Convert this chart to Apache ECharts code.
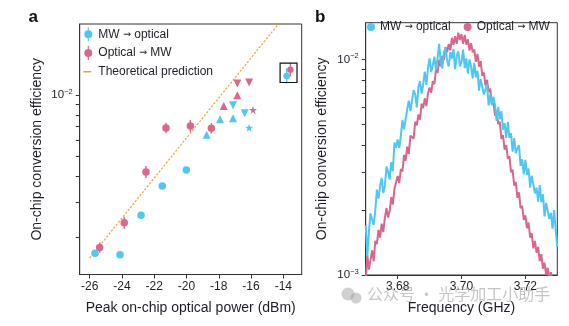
<!DOCTYPE html>
<html>
<head>
<meta charset="utf-8">
<script src="https://cdn.jsdelivr.net/npm/echarts@6/dist/echarts.min.js"></script>
<style>
  html, body { margin: 0; padding: 0; background: #fff; }
  #chart { width: 569px; height: 326px; }
</style>
</head>
<body>
<div id="chart"></div>
<script>
// ---------- Panel a: conversion efficiency vs. peak on-chip optical power ----------
const powerTicks = [-26, -24, -22, -20, -18, -16, -14];

// [power (dBm), efficiency]
const mwCircles  = [[-25.67, 1.68e-3], [-24.12, 1.65e-3], [-22.82, 2.58e-3], [-21.50, 3.58e-3], [-20.01, 4.29e-3]];
const optCircles = [[-25.38, 1.79e-3], [-23.86, 2.37e-3], [-22.51, 4.20e-3], [-21.27, 6.89e-3], [-19.76, 7.05e-3], [-18.46, 6.87e-3]];
const mwUp       = [[-18.75, 6.39e-3], [-17.92, 7.60e-3], [-17.12, 7.69e-3]];
const optUp      = [[-17.69, 8.83e-3], [-16.85, 9.97e-3]];
const mwDown     = [[-17.12, 8.90e-3], [-16.39, 8.13e-3]];
const optDown    = [[-16.85, 1.14e-2], [-16.12, 1.15e-2]];
const mwStar     = [[-16.12, 6.91e-3]];
const optStar    = [[-15.88, 8.45e-3]];
const mwBoxed    = [[-13.79, 1.24e-2]];
const optBoxed   = [[-13.56, 1.33e-2]];

// relative error-bar half widths
const mwCircleErr  = [0.03, 0.03, 0.03, 0.03, 0.03];
const optCircleErr = [0.06, 0.07, 0.07, 0.06, 0.07, 0.06];
const mwBoxedErr   = [0.09];
const optBoxedErr  = [0.08];

// theoretical prediction (efficiency proportional to optical power)
const theoryLine = [[-26.0, 1.59e-3], [-14.3, 2.23e-2]];

// ---------- Panel b: conversion efficiency spectra ----------
const freqTicks = [3.68, 3.70, 3.72];
const freqStart = 3.670;   // GHz, first sample of the sweep
const freqStep  = 0.0005;  // GHz, sweep step

// efficiency in units of 1e-3 (per mille), one value per sweep point
const mwToOpticalPermille = [
  1.70, 1.22, 1.58, 1.93, 1.89,  1.71, 1.99, 2.49, 2.26, 2.58,
  2.82, 2.40, 2.59, 3.18, 3.02,  2.77, 3.34, 3.03, 4.12, 3.89,
  4.25, 3.88, 4.41, 5.23, 4.74,  4.72, 5.87, 6.43, 5.75, 5.68,
  7.20, 6.88, 5.99, 7.42, 7.92,  6.94, 7.63, 8.78, 7.61, 9.15,
  10.1, 8.73, 9.37, 10.3, 8.91,  10.2, 11.8, 9.60, 9.08, 10.8,
  11.3, 9.89, 9.27, 10.8, 10.1,  11.2, 9.02, 10.4, 10.9, 9.29,
  9.75, 11.1, 9.11, 10.1, 8.60,  10.0, 9.29, 8.16, 9.63, 8.26,
  8.87, 7.16, 8.11, 8.24, 6.87,  6.93, 7.66, 6.12, 6.89, 6.13,
  6.72, 6.14, 5.19, 6.02, 5.28,  5.76, 4.72, 5.06, 4.32, 5.13,
  4.33, 4.54, 3.73, 4.32, 3.67,  3.87, 4.00, 3.21, 3.44, 2.93,
  3.42, 2.92, 3.12, 2.54, 2.89,  2.92, 2.39, 2.54, 2.19, 2.61,
  2.18, 2.37, 1.87, 2.16, 2.20,  1.82, 1.94, 1.64, 2.00, 1.62,
  1.35
];
const opticalToMwPermille = [
  0.93, 1.24, 1.06, 1.05, 1.30,  1.16, 1.44, 1.39, 1.62, 1.49,
  1.73, 1.58, 1.84, 2.04, 1.85,  1.98, 2.30, 2.12, 2.51, 2.46,
  2.88, 2.67, 3.10, 3.02, 3.60,  3.39, 3.94, 3.64, 4.43, 4.43,
  4.29, 5.14, 4.95, 5.55, 5.25,  6.24, 5.94, 6.60, 6.07, 6.96,
  7.41, 7.01, 7.93, 7.67, 8.98,  8.67, 9.96, 9.29, 10.4, 9.91,
  11.4, 10.8, 11.8, 11.0, 12.6,  11.7, 12.8, 11.8, 13.3, 12.3,
  13.1, 11.8, 13.0, 11.7, 12.4,  11.0, 11.9, 10.8, 11.1, 9.76,
  10.6, 9.26, 9.81, 8.40, 8.69,  7.56, 8.04, 7.07, 7.32, 6.21,
  6.41, 5.48, 5.78, 5.01, 5.13,  4.28, 4.45, 3.81, 4.00, 3.47,
  3.55, 3.00, 3.08, 2.60, 2.70,  2.28, 2.42, 2.04, 2.09, 1.80,
  1.89, 1.65, 1.75, 1.49, 1.56,  1.33, 1.44, 1.27, 1.35, 1.16,
  1.25, 1.07, 1.14, 1.00, 1.08,  0.96, 1.03, 0.89, 0.95, 0.85,
  0.85
];

// ---------- styling ----------
const FONT = '"Liberation Sans", Arial, sans-serif';
const BLUE = '#4fc7f3';
const PINK = '#d8678b';
const ORANGE = '#e5a53b';
const INK = '#1e1e28';
const AXIS = '#333';

const NAME_MW = 'MW \u2192 optical';
const NAME_OPT = 'Optical \u2192 MW';
const NAME_TH = 'Theoretical prediction';

// legend glyphs: dot with vertical error bar, and a short line
const ICON_ERRDOT = 'path://M4.45,0h1.1v14h-1.1z M9,7a4,4 0 1,1 -8,0a4,4 0 1,1 8,0z';
const ICON_LINE = 'path://M0,0h0.01v0.01h-0.01z M0,6.3h8v1.4h-8z M9.99,13.99h0.01v0.01h-0.01z';
const STAR = 'path://M50,0 L61,35 L98,35 L68,57 L79,91 L50,70 L21,91 L32,57 L2,35 L39,35Z';

const legendText = {
  fontSize: 12, color: INK, fontFamily: FONT,
  rich: { ar: { fontFamily: '"DejaVu Sans", sans-serif', fontSize: 9.5, color: INK } }
};
const legendFormatter = name => name.replace('\u2192', '{ar|\u2192}');

const minorLog = (decadeStart) => [2, 3, 4, 5, 6, 7, 8, 9].map(k => k * decadeStart);

function powLabel(v) {
  const e = Math.round(Math.log10(v));
  return '{b|10}{s|' + (e < 0 ? '\u2212' + (-e) : e) + '}';
}
const powRich = {
  b: { fontSize: 11.5, fontFamily: FONT, color: INK, lineHeight: 14 },
  s: { fontSize: 7.5, fontFamily: FONT, color: INK, verticalAlign: 'top', lineHeight: 8, padding: [0, 0, 6, 0] }
};

function scatter(name, data, color, symbol, size, rotate) {
  return {
    type: 'scatter', name, data, xAxisIndex: 0, yAxisIndex: 0,
    symbol, symbolSize: size, symbolRotate: rotate || 0,
    itemStyle: { color, opacity: 1 }, z: 3, silent: true
  };
}

function errorBars(points, errs, color) {
  return {
    type: 'custom', xAxisIndex: 0, yAxisIndex: 0, silent: true, z: 2,
    data: points.map((p, i) => [p[0], p[1] / (1 + errs[i]), p[1] * (1 + errs[i])]),
    encode: { x: 0, y: [1, 2] },
    renderItem: (params, api) => {
      const lo = api.coord([api.value(0), api.value(1)]);
      const hi = api.coord([api.value(0), api.value(2)]);
      return { type: 'line', shape: { x1: lo[0], y1: lo[1], x2: hi[0], y2: hi[1] },
               style: { stroke: color, lineWidth: 1.4 } };
    }
  };
}

// frame drawn around the highest-power pair of points
const boxFrame = {
  type: 'custom', xAxisIndex: 0, yAxisIndex: 0, silent: true, z: 4,
  data: [[mwBoxed[0][0], mwBoxed[0][1], optBoxed[0][0], optBoxed[0][1]]],
  encode: { x: [0, 2], y: [1, 3] },
  renderItem: (params, api) => {
    const a = api.coord([api.value(0), api.value(1)]);
    const b = api.coord([api.value(2), api.value(3)]);
    const pad = 6.6;
    const x0 = Math.min(a[0], b[0]) - pad, x1 = Math.max(a[0], b[0]) + pad;
    const y0 = Math.min(a[1], b[1]) - pad, y1 = Math.max(a[1], b[1]) + pad;
    return { type: 'rect', shape: { x: x0, y: y0, width: x1 - x0, height: y1 - y0 },
             style: { fill: 'none', stroke: '#111', lineWidth: 1.2 } };
  }
};

const mwSpectrum = mwToOpticalPermille.map((v, i) => [freqStart + i * freqStep, v * 1e-3]);
const optSpectrum = opticalToMwPermille.map((v, i) => [freqStart + i * freqStep, v * 1e-3]);

const chart = echarts.init(document.getElementById('chart'), null, { renderer: 'canvas' });

const option = {
  backgroundColor: '#fff',
  animation: false,
  textStyle: { fontFamily: FONT },
  grid: [
    { left: 79.7, top: 24, width: 222, height: 250.5, show: true, borderColor: AXIS, borderWidth: 1, backgroundColor: 'transparent' },
    { left: 365.7, top: 22.7, width: 191.6, height: 252.3, show: true, borderColor: AXIS, borderWidth: 1, backgroundColor: 'transparent' }
  ],
  xAxis: [
    {
      gridIndex: 0, type: 'value', min: -26.62, max: -12.86,
      name: 'Peak on-chip optical power (dBm)', nameLocation: 'middle', nameGap: 27,
      nameTextStyle: { fontSize: 14, color: INK, fontFamily: FONT },
      axisLine: { show: true, lineStyle: { color: AXIS, width: 1 } },
      axisTick: { show: true, length: 4, lineStyle: { color: AXIS }, customValues: powerTicks },
      axisLabel: { customValues: powerTicks, fontSize: 12, color: INK, margin: 6, fontFamily: FONT,
                   formatter: v => String(v) },
      splitLine: { show: false }
    },
    {
      gridIndex: 1, type: 'value', min: 3.67, max: 3.73,
      name: 'Frequency (GHz)', nameLocation: 'middle', nameGap: 26,
      nameTextStyle: { fontSize: 14, color: INK, fontFamily: FONT },
      axisLine: { show: true, lineStyle: { color: AXIS, width: 1 } },
      axisTick: { show: true, length: 4, lineStyle: { color: AXIS }, customValues: freqTicks },
      axisLabel: { customValues: freqTicks, fontSize: 12, color: INK, margin: 6, fontFamily: FONT,
                   formatter: v => v.toFixed(2) },
      splitLine: { show: false }
    }
  ],
  yAxis: [
    {
      gridIndex: 0, type: 'log', logBase: 10, min: 1.321e-3, max: 2.227e-2,
      name: 'On-chip conversion efficiency', nameLocation: 'middle', nameGap: 36,
      nameTextStyle: { fontSize: 14, color: INK, fontFamily: FONT },
      axisLine: { show: true, lineStyle: { color: AXIS, width: 1 } },
      axisTick: { show: true, length: 4, lineStyle: { color: AXIS }, customValues: minorLog(1e-3).concat([1e-2]) },
      axisLabel: { customValues: [1e-2], margin: 7, formatter: powLabel, rich: powRich },
      splitLine: { show: false }
    },
    {
      gridIndex: 1, type: 'log', logBase: 10, min: 1e-3, max: 1.48e-2,
      name: 'On-chip conversion efficiency', nameLocation: 'middle', nameGap: 37,
      nameTextStyle: { fontSize: 14, color: INK, fontFamily: FONT },
      axisLine: { show: true, lineStyle: { color: AXIS, width: 1 } },
      axisTick: { show: true, length: 4, lineStyle: { color: AXIS }, customValues: [1e-3].concat(minorLog(1e-3), [1e-2]) },
      axisLabel: { customValues: [1e-3, 1e-2], margin: 7, formatter: powLabel, rich: powRich },
      splitLine: { show: false }
    }
  ],
  legend: [
    {
      orient: 'vertical', left: 83.3, top: 27.3, padding: 0, itemGap: 4.7,
      itemWidth: 10, itemHeight: 14, itemStyle: { borderWidth: 0 },
      textStyle: legendText, formatter: legendFormatter,
      selectedMode: false,
      data: [
        { name: NAME_MW, icon: ICON_ERRDOT },
        { name: NAME_OPT, icon: ICON_ERRDOT },
        { name: NAME_TH, icon: ICON_LINE }
      ]
    },
    {
      orient: 'horizontal', left: 367, top: 21, padding: 0, itemGap: 13,
      itemWidth: 8, itemHeight: 8, itemStyle: { borderWidth: 0 },
      textStyle: legendText, formatter: legendFormatter,
      selectedMode: false,
      data: [
        { name: NAME_MW, icon: 'circle' },
        { name: NAME_OPT, icon: 'circle' }
      ]
    }
  ],
  graphic: [
    { type: 'text', left: 28.5, top: 9, style: { text: 'a', font: 'bold 17px ' + FONT, fill: '#111' } },
    { type: 'text', left: 315, top: 9, style: { text: 'b', font: 'bold 17px ' + FONT, fill: '#111' } },
    // account watermark
    { type: 'circle', shape: { cx: 348, cy: 294, r: 6.5 }, style: { fill: 'rgba(150,150,150,0.45)' }, z: 100 },
    { type: 'circle', shape: { cx: 356, cy: 298, r: 5.5 }, style: { fill: 'rgba(150,150,150,0.45)' }, z: 100 },
    { type: 'text', left: 367, top: 286, z: 100,
      style: { text: '\u516c\u4f17\u53f7 \u00b7 \u5149\u5b66\u52a0\u5de5\u5c0f\u52a9\u624b',
               font: '16px "Noto Sans CJK SC", sans-serif', fill: 'rgba(150,150,150,0.55)' } }
  ],
  series: [
    // panel a
    {
      type: 'line', name: NAME_TH, xAxisIndex: 0, yAxisIndex: 0, data: theoryLine,
      showSymbol: false, symbol: 'none', clip: true, silent: true, z: 1,
      itemStyle: { color: ORANGE },
      lineStyle: { color: ORANGE, width: 1.2, type: [2.2, 1.6] }
    },
    errorBars(mwCircles, mwCircleErr, BLUE),
    errorBars(optCircles, optCircleErr, PINK),
    errorBars(mwBoxed, mwBoxedErr, BLUE),
    errorBars(optBoxed, optBoxedErr, PINK),
    scatter(NAME_MW, mwCircles, BLUE, 'circle', 7.5),
    scatter(NAME_OPT, optCircles, PINK, 'circle', 7.5),
    scatter(NAME_MW, mwUp, BLUE, 'triangle', 8),
    scatter(NAME_OPT, optUp, PINK, 'triangle', 8),
    scatter(NAME_MW, mwDown, BLUE, 'triangle', 8, 180),
    scatter(NAME_OPT, optDown, PINK, 'triangle', 8, 180),
    scatter(NAME_MW, mwStar, BLUE, STAR, 8),
    scatter(NAME_OPT, optStar, PINK, STAR, 8),
    scatter(NAME_MW, mwBoxed, BLUE, 'circle', 6.5),
    scatter(NAME_OPT, optBoxed, PINK, 'circle', 6.5),
    boxFrame,
    // panel b
    {
      type: 'line', name: NAME_OPT, xAxisIndex: 1, yAxisIndex: 1, data: optSpectrum,
      showSymbol: false, symbol: 'none', clip: true, silent: true, z: 2,
      lineStyle: { color: PINK, width: 2 }, itemStyle: { color: PINK }
    },
    {
      type: 'line', name: NAME_MW, xAxisIndex: 1, yAxisIndex: 1, data: mwSpectrum,
      showSymbol: false, symbol: 'none', clip: true, silent: true, z: 3,
      lineStyle: { color: BLUE, width: 2 }, itemStyle: { color: BLUE }
    }
  ]
};

chart.setOption(option);
</script>
</body>
</html>
